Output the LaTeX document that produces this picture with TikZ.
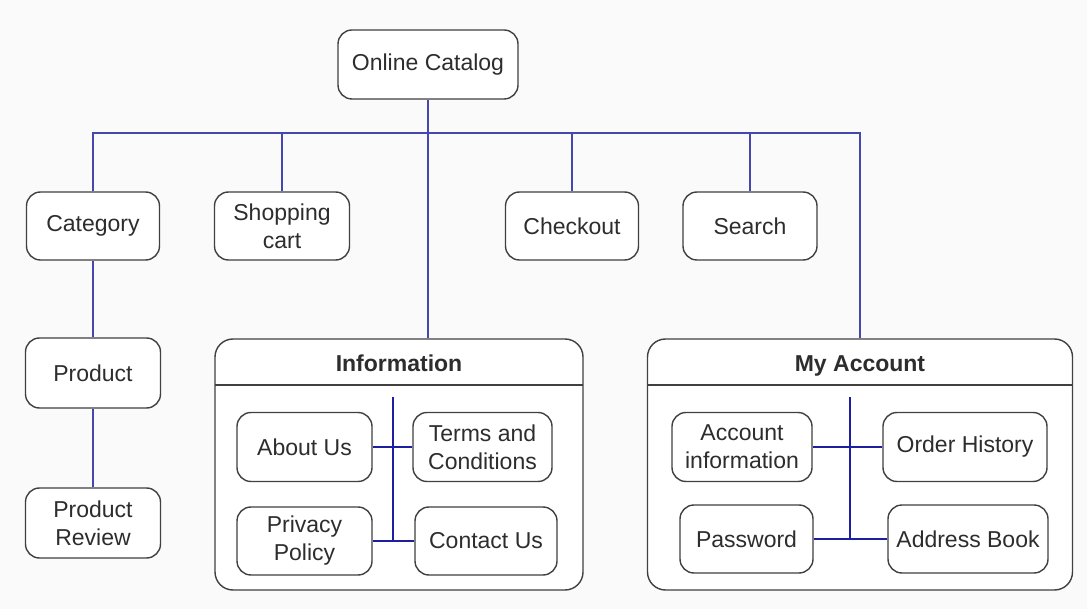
\documentclass[tikz,border=0pt]{standalone}
\usepackage{fontspec}
\setmainfont{Liberation Sans}
\definecolor{edge}{RGB}{64,64,64}
\definecolor{ink}{RGB}{45,45,45}
\definecolor{link}{RGB}{70,70,175}
\definecolor{innerlink}{RGB}{30,30,160}
\definecolor{paper}{RGB}{250,250,250}
\begin{document}
\begin{tikzpicture}[x=1pt,y=-1pt,
  box/.style={draw=edge, line width=1.4pt, rounded corners=14pt, fill=white,
    align=center, inner sep=0pt, text=ink,
    font=\fontsize{23}{28}\selectfont},
  group/.style={draw=edge, line width=1.4pt, rounded corners=18pt, fill=white, inner sep=0pt},
  grouptitle/.style={text=ink, text height=17pt, text depth=5pt, inner sep=0pt,
    font=\fontsize{23}{28}\selectfont\bfseries},
  conn/.style={draw=link, line width=1.4pt},
  innerconn/.style={draw=innerlink, line width=1.8pt}]
\fill[paper] (0,0) rectangle (1087,609);
\useasboundingbox (0,0) rectangle (1087,609);

% top level
\node[box, minimum width=180pt, minimum height=69pt] (catalog) at (428,64.5) {Online Catalog};
\coordinate (bus) at (428,133);

\node[box, minimum width=133pt, minimum height=68pt] (cat) at (93,226) {Category};
\node[box, minimum width=135pt, minimum height=68pt] (cart) at (282,226) {Shopping\\cart};
\node[box, minimum width=133pt, minimum height=68pt] (checkout) at (572,226) {Checkout};
\node[box, minimum width=134pt, minimum height=68pt] (search) at (750,226) {Search};

\node[box, minimum width=135pt, minimum height=70pt] (prod) at (93,373) {Product};
\node[box, minimum width=135pt, minimum height=70pt] (review) at (93,523) {Product\\Review};

% groups
\node[group, minimum width=368pt, minimum height=251pt] (info) at (399,464.5) {};
\draw[edge, line width=1.4pt] (215,385) -- (583,385);
\node[grouptitle] (infotitle) at (399,366) {Information};

\node[group, minimum width=425pt, minimum height=251pt] (acct) at (860,464.5) {};
\draw[edge, line width=1.4pt] (647.5,385) -- (1072.5,385);
\node[grouptitle] (accttitle) at (860,366) {My Account};

% information pages
\node[box, minimum width=135pt, minimum height=69pt] (about) at (304.5,447) {About Us};
\node[box, minimum width=139pt, minimum height=69pt] (terms) at (482.5,447) {Terms and\\Conditions};
\node[box, minimum width=135pt, minimum height=68pt] (privacy) at (304.5,541) {Privacy\\Policy};
\node[box, minimum width=142pt, minimum height=68pt] (contact) at (486,541) {Contact Us};

% account pages
\node[box, minimum width=140pt, minimum height=69pt] (accinfo) at (742,447) {Account\\information};
\node[box, minimum width=164pt, minimum height=69pt] (orders) at (965,447) {Order History};
\node[box, minimum width=133pt, minimum height=68pt] (password) at (746.5,539) {Password};
\node[box, minimum width=160pt, minimum height=68pt] (address) at (968,539) {Address Book};

% connectors, top level
\draw[conn] (catalog.south) -- (catalog.south |- info.north);
\draw[conn] (cat.north) |- (acct.north |- bus) -- (acct.north);
\draw[conn] (cart.north) -- (cart.north |- bus);
\draw[conn] (checkout.north) -- (checkout.north |- bus);
\draw[conn] (search.north) -- (search.north |- bus);
\draw[conn] (cat.south) -- (prod.north);
\draw[conn] (prod.south) -- (review.north);

% connectors inside Information
\coordinate (itop) at (393,397);
\draw[innerconn] (itop) -- (itop |- privacy.east);
\draw[innerconn] (about.east) -- (terms.west);
\draw[innerconn] (privacy.east) -- (contact.west);

% connectors inside My Account
\coordinate (atop) at (850,397);
\draw[innerconn] (atop) -- (atop |- password.east);
\draw[innerconn] (accinfo.east) -- (orders.west);
\draw[innerconn] (password.east) -- (address.west);
\end{tikzpicture}
\end{document}
